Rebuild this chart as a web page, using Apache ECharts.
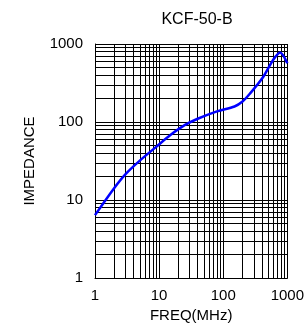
<!DOCTYPE html>
<html>
<head>
<meta charset="utf-8">
<script src="https://cdn.jsdelivr.net/npm/echarts@6/dist/echarts.min.js"></script>
<style>
    html, body { margin: 0; padding: 0; background: #fff; }
</style>
</head>
<body>
<div id="chart_con" style="width:307px;height:329px;"></div>
<script>
    // frequency (MHz) and impedance
    var freq = [1, 2, 3, 5, 9, 15, 25, 40, 80, 150, 200, 260, 420, 600, 770, 1000];
    var impedance = [6.4, 14.3, 21.5, 32, 48, 68, 91, 110, 137, 158, 183, 230, 378, 624, 780, 565];
    var tickLabels = [1, 10, 100, 1000];
    // grid lines at 1..9 of every decade
    var gridValues = [1, 2, 3, 4, 5, 6, 7, 8, 9, 10, 20, 30, 40, 50, 60, 70, 80, 90,
        100, 200, 300, 400, 500, 600, 700, 800, 900, 1000];

    var font = 'Liberation Sans, Arial, sans-serif';
    var lines = [];
    gridValues.forEach(function (v) {
        lines.push({ xAxis: v });
        lines.push({ yAxis: v });
    });

    var option = {
        backgroundColor: '#fff',
        animation: false,
        title: {
            text: 'KCF-50-B',
            left: 192,
            textAlign: 'center',
            top: 7,
            textStyle: { fontFamily: font, fontSize: 16, fontWeight: 'normal', color: '#000' }
        },
        grid: { left: 95, top: 44, right: 18, bottom: 51, containLabel: false },
        xAxis: {
            type: 'log',
            logBase: 10,
            min: 1,
            max: 1000,
            name: 'FREQ(MHz)',
            nameLocation: 'middle',
            nameGap: 26,
            nameTextStyle: { fontFamily: font, fontSize: 15, color: '#000' },
            axisLine: { lineStyle: { color: '#000', width: 1 } },
            axisTick: { show: false },
            splitLine: { show: false },
            axisLabel: {
                fontFamily: font, fontSize: 15, color: '#000', margin: 10,
                formatter: function (v) { return tickLabels.indexOf(v) >= 0 ? String(v) : ''; }
            }
        },
        yAxis: {
            type: 'log',
            logBase: 10,
            min: 1,
            max: 1000,
            name: 'IMPEDANCE',
            nameLocation: 'middle',
            nameGap: 58,
            nameTextStyle: { fontFamily: font, fontSize: 15, color: '#000' },
            axisLine: { lineStyle: { color: '#000', width: 1 } },
            axisTick: { show: false },
            splitLine: { show: false },
            axisLabel: {
                fontFamily: font, fontSize: 15, color: '#000', margin: 12,
                formatter: function (v) { return tickLabels.indexOf(v) >= 0 ? String(v) : ''; }
            }
        },
        series: [
            {
                name: 'grid',
                type: 'line',
                data: [],
                silent: true,
                markLine: {
                    silent: true,
                    symbol: 'none',
                    label: { show: false },
                    lineStyle: { color: '#000', width: 1, type: 'solid' },
                    data: lines
                }
            },
            {
                name: 'impedance',
                type: 'line',
                smooth: 0.3,
                symbol: 'none',
                lineStyle: { color: '#0000ff', width: 2.5 },
                data: freq.map(function (f, i) { return [f, impedance[i]]; }),
                z: 5
            }
        ]
    };
    var chart = echarts.init(document.getElementById('chart_con'));
    chart.setOption(option);
    window.addEventListener('resize', function () {
        chart.resize();
    });
</script>
</body>
</html>
